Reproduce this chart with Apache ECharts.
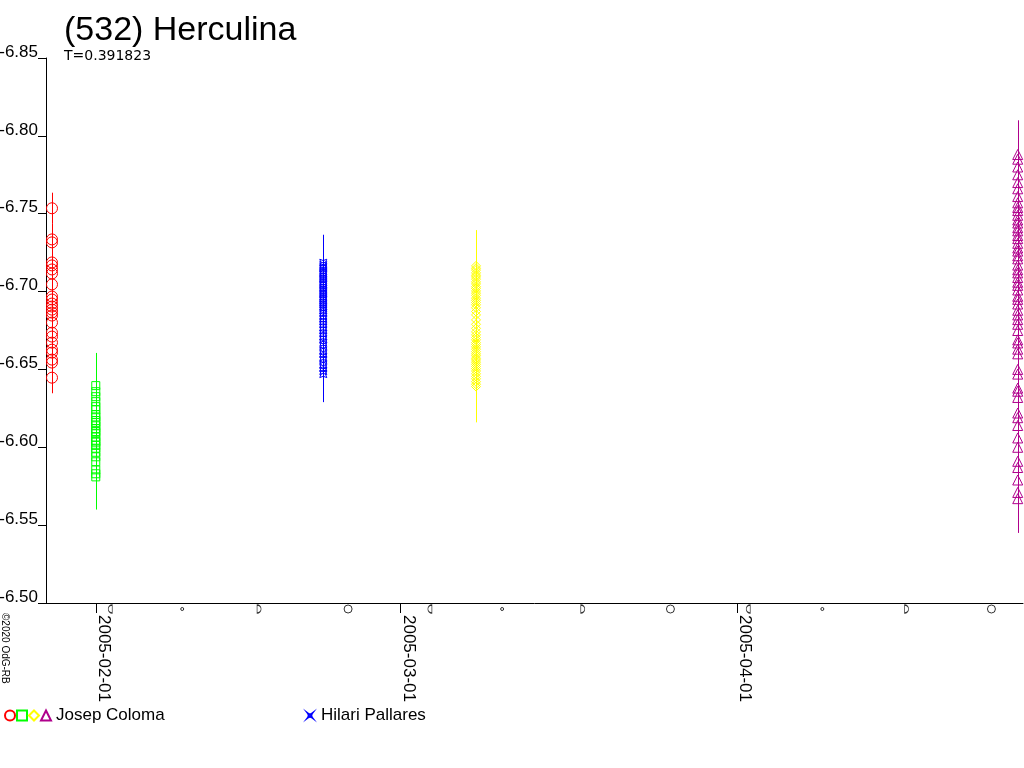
<!DOCTYPE html>
<html><head><meta charset="utf-8">
<script src="https://cdn.jsdelivr.net/npm/echarts@6/dist/echarts.min.js"></script>
<style>html,body{margin:0;padding:0;background:#fff}#c{width:1024px;height:768px}</style>
</head><body><div id="c"></div>
<script>
// ---------- data ----------
const titleText = '(532) Herculina';
const subText = 'T=0.391823';
const copyrightText = '©2020 OdG-RB';
const xTickDates = ['2005-02-01', '2005-03-01', '2005-04-01'];
const xRange = ['2005-01-27T09:33:00Z', '2005-04-27T07:50:00Z'];
const yRange = [-6.85, -6.50];
const yStep = 0.05;

const sessionNames = ['Coloma 1', 'Coloma 2', 'Pallares 1', 'Coloma 3', 'Coloma 4'];
const sessionObserver = ['Josep Coloma', 'Josep Coloma', 'Hilari Pallares', 'Josep Coloma', 'Josep Coloma'];
const sessionTimes = ['2005-01-27T22:48:00Z', '2005-01-31T23:30:00Z', '2005-02-21T22:05:00Z', '2005-03-07T23:30:00Z', '2005-04-26T20:10:00Z'];
const sessionErr = [0.010, 0.021, 0.018, 0.023, 0.022];

const colomaJan27 = [-6.7535, -6.7335, -6.7316, -6.7187, -6.7168, -6.7142, -6.7116, -6.7046, -6.6968, -6.6949,
  -6.6923, -6.6904, -6.6884, -6.6865, -6.6846, -6.6801, -6.6736, -6.6711, -6.6672, -6.6627, -6.6608, -6.6563,
  -6.6544, -6.6447];
const colomaJan31 = [-6.6396, -6.6357, -6.6325, -6.6293, -6.6261, -6.6241, -6.6210, -6.6195, -6.6172, -6.6160,
  -6.6138, -6.6120, -6.6101, -6.6090, -6.6066, -6.6041, -6.6033, -6.6012, -6.5994, -6.5968, -6.5939, -6.5907,
  -6.5855, -6.5830, -6.5810];
const pallaresFeb21 = [-6.7185, -6.7170, -6.7158, -6.7149, -6.7133, -6.7121, -6.7110, -6.7098, -6.7085, -6.7076,
  -6.7062, -6.7050, -6.7041, -6.7027, -6.7015, -6.7003, -6.6990, -6.6981, -6.6967, -6.6955, -6.6944, -6.6930,
  -6.6918, -6.6905, -6.6893, -6.6880, -6.6862, -6.6840, -6.6825, -6.6808, -6.6789, -6.6770, -6.6752, -6.6730,
  -6.6712, -6.6695, -6.6671, -6.6650, -6.6622, -6.6600, -6.6578, -6.6560, -6.6531, -6.6510, -6.6489, -6.6470];
const colomaMar07 = [-6.7165, -6.7150, -6.7138, -6.7120, -6.7105, -6.7094, -6.7080, -6.7062, -6.7049, -6.7031,
  -6.7020, -6.7004, -6.6990, -6.6976, -6.6958, -6.6944, -6.6930, -6.6915, -6.6896, -6.6872, -6.6850, -6.6818,
  -6.6790, -6.6764, -6.6741, -6.6722, -6.6705, -6.6690, -6.6672, -6.6660, -6.6645, -6.6630, -6.6614, -6.6600,
  -6.6588, -6.6572, -6.6561, -6.6547, -6.6533, -6.6519, -6.6505, -6.6490, -6.6472, -6.6455, -6.6440, -6.6421,
  -6.6405, -6.6390];
const colomaApr26 = [-6.7880, -6.7850, -6.7800, -6.7750, -6.7700, -6.7660, -6.7610, -6.7570, -6.7540, -6.7520,
  -6.7490, -6.7460, -6.7440, -6.7410, -6.7390, -6.7360, -6.7340, -6.7310, -6.7280, -6.7260, -6.7230, -6.7210,
  -6.7170, -6.7140, -6.7120, -6.7090, -6.7060, -6.7040, -6.7010, -6.6970, -6.6950, -6.6920, -6.6880, -6.6850,
  -6.6820, -6.6790, -6.6750, -6.6690, -6.6670, -6.6630, -6.6600, -6.6500, -6.6470, -6.6380, -6.6360, -6.6320,
  -6.6220, -6.6190, -6.6140, -6.6060, -6.6000, -6.5910, -6.5870, -6.5790, -6.5710, -6.5670];
const sessionMags = [colomaJan27, colomaJan31, pallaresFeb21, colomaMar07, colomaApr26];

const moonDates = ['2005-02-02T07:27:00Z', '2005-02-08T22:28:00Z', '2005-02-16T00:16:00Z', '2005-02-24T04:54:00Z',
  '2005-03-03T17:36:00Z', '2005-03-10T09:10:00Z', '2005-03-17T19:19:00Z', '2005-03-25T20:58:00Z',
  '2005-04-02T00:50:00Z', '2005-04-08T20:32:00Z', '2005-04-16T14:37:00Z', '2005-04-24T10:06:00Z'];
const moonPhases = ['last', 'new', 'first', 'full', 'last', 'new', 'first', 'full', 'last', 'new', 'first', 'full'];

// ---------- styles ----------
const FONT = '"Liberation Sans", Arial, sans-serif';
const STAR = 'path://M-4,-4 Q0,-1 4,-4 Q1,0 4,4 Q0,1 -4,4 Q-1,0 -4,-4Z';
const sessionStyle = [
  { color: '#ff0000', symbol: 'circle', size: 11 },
  { color: '#00ff00', symbol: 'rect', size: 8 },
  { color: '#0000ff', symbol: STAR, size: 7 },
  { color: '#ffff00', symbol: 'diamond', size: 9 },
  { color: '#b0008c', symbol: 'triangle', size: 10 }
];
const moonSymbols = {
  last: { symbol: 'path://M4,0 L4,8 A4,4 0 0 1 4,0 Z', size: [4, 8] },
  first: { symbol: 'path://M0,0 L0,8 A4,4 0 0 0 0,0 Z', size: [4, 8] },
  full: { symbol: 'circle', size: 8 },
  new: { symbol: 'circle', size: 3 }
};

const t = s => new Date(s).getTime();
const xTicks = xTickDates.map(d => t(d + 'T00:00:00Z'));

const series = [];
sessionNames.forEach((name, i) => {
  const st = sessionStyle[i];
  const time = t(sessionTimes[i]);
  series.push({
    type: 'custom',
    name: name + ' err',
    silent: true,
    z: 1,
    data: sessionMags[i].map(m => [time, m - sessionErr[i], m + sessionErr[i]]),
    encode: { x: 0, y: [1, 2] },
    renderItem: (params, api) => {
      const p1 = api.coord([api.value(0), api.value(1)]);
      const p2 = api.coord([api.value(0), api.value(2)]);
      const x = Math.round(p1[0]) + 0.5;
      return { type: 'line', shape: { x1: x, y1: p1[1], x2: x, y2: p2[1] },
        style: { stroke: st.color, lineWidth: 1 } };
    }
  });
  series.push({
    type: 'scatter',
    name: name,
    z: 2,
    symbol: st.symbol,
    symbolSize: st.size,
    itemStyle: { color: 'rgba(0,0,0,0)', borderColor: st.color, borderWidth: 1, opacity: 1 },
    data: sessionMags[i].map(m => [time, m])
  });
});
series.push({
  type: 'scatter',
  name: 'moon',
  clip: false,
  silent: true,
  symbolOffset: [0, 6],
  itemStyle: { color: 'rgba(0,0,0,0)', borderColor: '#000', borderWidth: 1 },
  data: moonDates.map((d, i) => ({
    value: [t(d), yRange[1]],
    symbol: moonSymbols[moonPhases[i]].symbol,
    symbolSize: moonSymbols[moonPhases[i]].size
  }))
});

const chart = echarts.init(document.getElementById('c'), null, { renderer: 'canvas' });
chart.setOption({
  animation: false,
  backgroundColor: '#fff',
  textStyle: { fontFamily: FONT },
  title: [
    { text: titleText, left: 64, top: 14, padding: 0,
      textStyle: { fontSize: 34, fontWeight: 'normal', color: '#000', fontFamily: FONT } },
    { text: subText, left: 64, top: 49, padding: 0,
      textStyle: { fontSize: 14, fontWeight: 'normal', color: '#000', fontFamily: '"DejaVu Sans", sans-serif' } }
  ],
  grid: { left: 46, top: 58, right: 1, bottom: 165, containLabel: false, outerBoundsMode: 'none' },
  xAxis: {
    type: 'value', min: t(xRange[0]), max: t(xRange[1]), scale: true,
    axisLine: { show: true, lineStyle: { color: '#000', width: 1 } },
    axisTick: { show: true, customValues: xTicks, length: 10, lineStyle: { color: '#000' } },
    axisLabel: { show: true, customValues: xTicks, rotate: -90, margin: 12, fontSize: 17, color: '#000',
      fontFamily: FONT, verticalAlign: 'bottom', lineHeight: 16,
      formatter: v => new Date(v).toISOString().slice(0, 10) },
    splitLine: { show: false }, minorTick: { show: false }
  },
  yAxis: {
    type: 'value', inverse: true, min: yRange[0], max: yRange[1], interval: yStep,
    axisLine: { show: true, lineStyle: { color: '#000', width: 1 } },
    axisTick: { show: true, length: 8, lineStyle: { color: '#000' } },
    axisLabel: { show: true, margin: 8, fontSize: 17, color: '#000', fontFamily: FONT, verticalAlign: 'bottom',
      lineHeight: 12, formatter: v => v.toFixed(2) },
    splitLine: { show: false }
  },
  legend: [
    { data: sessionNames.filter((n, i) => sessionObserver[i] === 'Josep Coloma'), left: 4, top: 707, padding: 0,
      orient: 'horizontal', itemWidth: 10, itemHeight: 10, itemGap: 0, selectedMode: false,
      formatter: n => n === 'Coloma 4' ? 'Josep Coloma' : '',
      textStyle: { fontSize: 17, color: '#000', fontFamily: FONT } },
    { data: [{ name: 'Pallares 1', icon: STAR }], left: 307, top: 707, padding: 0,
      orient: 'horizontal', itemWidth: 4, itemHeight: 4, selectedMode: false,
      formatter: () => 'Hilari Pallares',
      textStyle: { fontSize: 17, color: '#000', fontFamily: FONT, padding: [0, 0, 0, 4] } }
  ],
  graphic: [
    { type: 'text', x: 10, y: 613, rotation: -Math.PI / 2,
      style: { text: copyrightText, fontSize: 10, fill: '#000', fontFamily: FONT, align: 'left', verticalAlign: 'top' } }
  ],
  series: series
});
</script></body></html>
